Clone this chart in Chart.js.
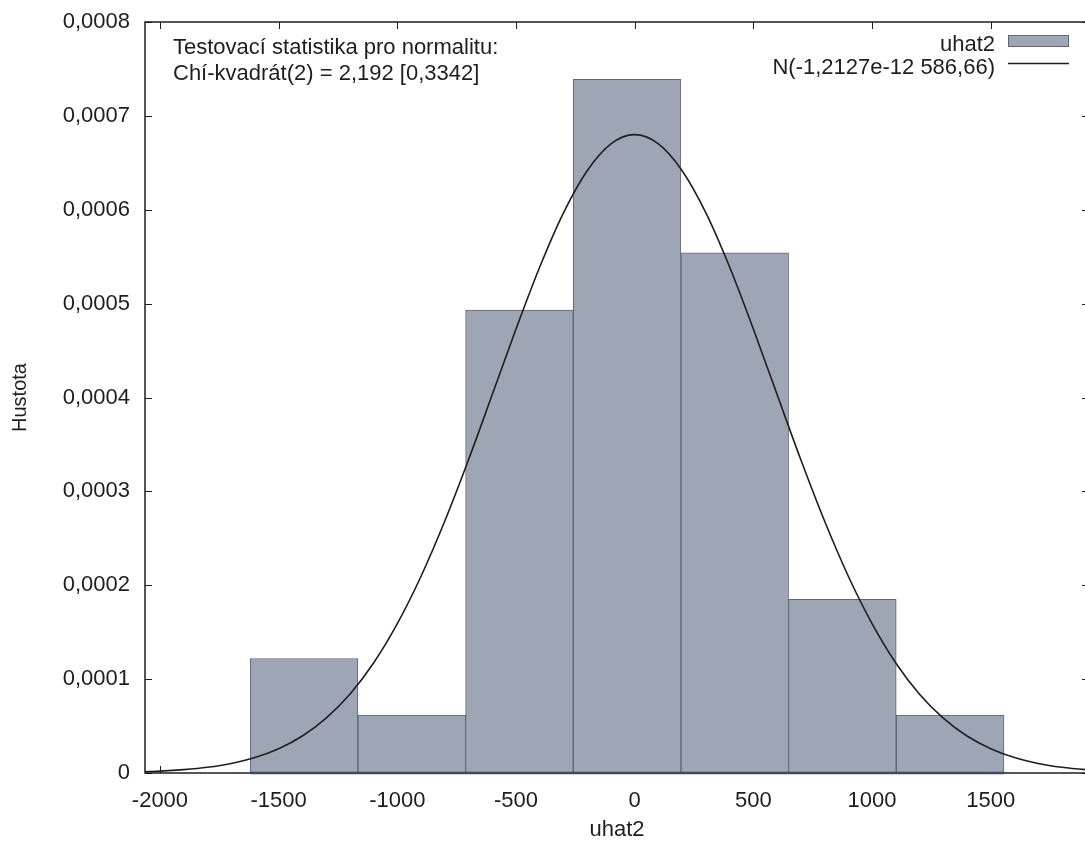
<!DOCTYPE html>
<html>
<head>
<meta charset="utf-8">
<script src="https://cdn.jsdelivr.net/npm/chart.js@4/dist/chart.umd.min.js"></script>
<style>
  html, body { margin: 0; padding: 0; background: #fff; overflow: hidden; }
  #wrap { width: 1085px; height: 843px; overflow: hidden; }
</style>
</head>
<body>
<div id="wrap"><canvas id="hist" width="1092" height="843"></canvas></div>
<script>
  // histogram of uhat2 (7 bins), density scale
  const binEdges = [-1620, -1166, -712, -259, 195, 648, 1102, 1556];
  const binDensity = [0.000122, 0.0000618, 0.000493, 0.000739, 0.000554, 0.000185, 0.0000618];

  // normal density N(-1,2127e-12 586,66), sampled every 100
  const curveX = [-2100, -2000, -1900, -1800, -1700, -1600, -1500, -1400, -1300, -1200, -1100,
    -1000, -900, -800, -700, -600, -500, -400, -300, -200, -100, 0,
    100, 200, 300, 400, 500, 600, 700, 800, 900, 1000,
    1100, 1200, 1300, 1400, 1500, 1600, 1700, 1800, 1900, 2000];
  const curveY = [0.0000011, 0.0000020, 0.0000036, 0.0000061, 0.0000102, 0.0000165, 0.0000259, 0.0000394, 0.0000584, 0.0000839, 0.0001172,
    0.0001591, 0.0002096, 0.0002684, 0.0003337, 0.0004031, 0.0004729, 0.0005390, 0.0005967, 0.0006416, 0.0006702, 0.0006800,
    0.0006702, 0.0006416, 0.0005967, 0.0005390, 0.0004729, 0.0004031, 0.0003337, 0.0002684, 0.0002096, 0.0001591,
    0.0001172, 0.0000839, 0.0000584, 0.0000394, 0.0000259, 0.0000165, 0.0000102, 0.0000061, 0.0000036, 0.0000020];

  const xTicks = [-2000, -1500, -1000, -500, 0, 500, 1000, 1500];
  const yTicks = [0, 0.0001, 0.0002, 0.0003, 0.0004, 0.0005, 0.0006, 0.0007, 0.0008];

  const testLines = ["Testovací statistika pro normalitu:", "Chí-kvadrát(2) = 2,192 [0,3342]"];
  const seriesName = "uhat2";
  const curveName = "N(-1,2127e-12 586,66)";

  const FONT = "'Liberation Sans', Arial, sans-serif";
  const barFill = "#9ea6b6";
  const barLine = "#5f6777";
  const ink = "#1e1e1e";

  const barData = binDensity.map((d, i) => ({ x: (binEdges[i] + binEdges[i + 1]) / 2, y: d }));
  const curveData = curveX.map((x, i) => ({ x: x, y: curveY[i] }));

  // frame with inward ticks on all four sides (gnuplot style)
  const framePlugin = {
    id: "frame",
    afterDatasetsDraw(chart) {
      const ctx = chart.ctx;
      const a = chart.chartArea;
      const xs = chart.scales.x;
      const ys = chart.scales.y;
      const tl = 7;
      ctx.save();
      ctx.strokeStyle = ink;
      ctx.lineWidth = 1;
      ctx.beginPath();
      xTicks.forEach(v => {
        const px = Math.round(xs.getPixelForValue(v)) + 0.5;
        ctx.moveTo(px, a.top); ctx.lineTo(px, a.top + tl);
      });
      yTicks.forEach(v => {
        const py = Math.round(ys.getPixelForValue(v)) + 0.5;
        ctx.moveTo(a.left, py); ctx.lineTo(a.left + tl, py);
        ctx.moveTo(a.right, py); ctx.lineTo(a.right - tl, py);
      });
      ctx.stroke();
      // bottom ticks only outside the bars
      ctx.beginPath();
      xTicks.forEach(v => {
        if (v > binEdges[0] && v < binEdges[binEdges.length - 1]) return;
        const px = Math.round(xs.getPixelForValue(v)) + 0.5;
        ctx.moveTo(px, a.bottom); ctx.lineTo(px, a.bottom - tl);
      });
      ctx.stroke();
      ctx.lineWidth = 1.5;
      ctx.strokeRect(a.left, a.top, a.right - a.left, a.bottom - a.top);
      ctx.strokeStyle = "#444a55";
      ctx.lineWidth = 2.5;
      ctx.beginPath();
      ctx.moveTo(xs.getPixelForValue(binEdges[0]), a.bottom);
      ctx.lineTo(xs.getPixelForValue(binEdges[binEdges.length - 1]), a.bottom);
      ctx.stroke();

      // test statistic text
      ctx.fillStyle = ink;
      ctx.font = "22px " + FONT;
      ctx.textAlign = "left";
      ctx.textBaseline = "middle";
      ctx.fillText(testLines[0], 173, 48);
      ctx.fillText(testLines[1], 173, 74);

      // key
      ctx.textAlign = "right";
      ctx.fillText(seriesName, 995, 45);
      ctx.fillText(curveName, 995, 68);
      ctx.fillStyle = barFill;
      ctx.fillRect(1008, 35, 61, 12);
      ctx.strokeStyle = barLine;
      ctx.lineWidth = 1;
      ctx.strokeRect(1008.5, 35.5, 60, 11);
      ctx.strokeStyle = ink;
      ctx.lineWidth = 1.5;
      ctx.beginPath();
      ctx.moveTo(1008, 63.5); ctx.lineTo(1069, 63.5);
      ctx.stroke();
      ctx.restore();
    }
  };

  new Chart(document.getElementById("hist"), {
    type: "bar",
    data: {
      datasets: [
        {
          type: "line",
          label: curveName,
          data: curveData,
          borderColor: ink,
          borderWidth: 1.6,
          pointRadius: 0,
          cubicInterpolationMode: "monotone",
          order: 0
        },
        {
          type: "bar",
          label: seriesName,
          data: barData,
          backgroundColor: barFill,
          borderColor: barLine,
          borderWidth: 1,
          borderSkipped: false,
          barPercentage: 1,
          categoryPercentage: 1,
          order: 1
        }
      ]
    },
    options: {
      responsive: false,
      devicePixelRatio: 1,
      animation: false,
      layout: { padding: { top: 22, right: 3, left: 0, bottom: 0 } },
      plugins: { legend: { display: false }, tooltip: { enabled: false } },
      scales: {
        x: {
          type: "linear",
          offset: false,
          min: -2063,
          max: 1914,
          afterBuildTicks: s => { s.ticks = xTicks.map(v => ({ value: v })); },
          afterFit: s => { s.height = 70; s.paddingLeft = 0; s.paddingRight = 0; },
          grid: { display: false, drawTicks: false, offset: false },
          border: { display: false },
          ticks: {
            color: ink,
            font: { family: FONT, size: 22 },
            padding: 15,
            maxRotation: 0,
            autoSkip: false,
            callback: v => String(v)
          },
          title: {
            display: true,
            text: seriesName,
            color: ink,
            font: { family: FONT, size: 22 },
            padding: { top: 0, bottom: 0 }
          }
        },
        y: {
          min: 0,
          max: 0.0008,
          afterBuildTicks: s => { s.ticks = yTicks.map(v => ({ value: v })); },
          afterFit: s => { s.width = 145; s.paddingTop = 0; s.paddingBottom = 0; },
          grid: { display: false, drawTicks: false },
          border: { display: false },
          ticks: {
            color: ink,
            font: { family: FONT, size: 22 },
            padding: 15,
            callback: v => (v === 0 ? "0" : v.toFixed(4).replace(".", ","))
          },
          title: {
            display: true,
            text: "Hustota",
            color: ink,
            font: { family: FONT, size: 20 },
            padding: { top: 8, bottom: 0 }
          }
        }
      }
    },
    plugins: [framePlugin]
  });
</script>
</body>
</html>
